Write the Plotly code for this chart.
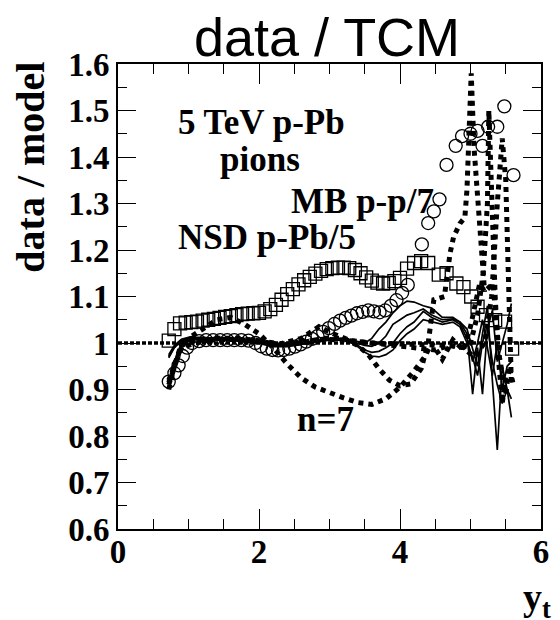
import plotly.graph_objects as go

# ---------------- data ----------------
sq_x = [0.72, 0.80, 0.88, 0.96, 1.04, 1.12, 1.20, 1.28, 1.36, 1.44, 1.52, 1.60, 1.68, 1.76,
        1.84, 1.92, 2.00, 2.08, 2.16, 2.24, 2.32, 2.40, 2.48, 2.56, 2.64, 2.72, 2.80, 2.88,
        2.96, 3.04, 3.12, 3.20, 3.28, 3.36, 3.44, 3.52, 3.60, 3.68, 3.76, 3.84, 3.92, 4.00,
        4.10, 4.20, 4.30, 4.40, 4.55, 4.66, 4.80, 4.90, 5.01, 5.10, 5.22, 5.35, 5.49, 5.59]
sq_y = [1.005, 1.030, 1.042, 1.044, 1.045, 1.046, 1.048, 1.050, 1.052, 1.054, 1.056, 1.058,
        1.060, 1.062, 1.063, 1.064, 1.065, 1.068, 1.073, 1.082, 1.093, 1.105, 1.116, 1.126,
        1.135, 1.142, 1.149, 1.155, 1.159, 1.161, 1.162, 1.162, 1.161, 1.157, 1.150, 1.141,
        1.134, 1.130, 1.128, 1.129, 1.133, 1.140, 1.160, 1.172, 1.176, 1.172, 1.147, 1.150,
        1.128, 1.120, 1.100, 1.078, 1.060, 1.049, 1.046, 0.988]

ci_x = [0.72, 0.80, 0.86, 0.92, 0.98, 1.05, 1.15, 1.25, 1.35, 1.45, 1.55, 1.65, 1.75, 1.85,
        1.95, 2.03, 2.11, 2.19, 2.27, 2.35, 2.43, 2.51, 2.59, 2.67, 2.75, 2.83, 2.91, 2.99,
        3.07, 3.15, 3.23, 3.31, 3.39, 3.47, 3.55, 3.63, 3.71, 3.79, 3.87, 3.95, 4.03, 4.11,
        4.31, 4.40, 4.48, 4.56, 4.66, 4.79, 4.88, 5.00, 5.10, 5.17, 5.25, 5.38, 5.48, 5.61]
ci_y = [0.917, 0.935, 0.952, 0.972, 0.990, 1.000, 1.004, 1.006, 1.006, 1.006, 1.006, 1.006,
        1.006, 1.005, 1.000, 0.993, 0.988, 0.985, 0.984, 0.985, 0.988, 0.992, 0.997, 1.003,
        1.009, 1.015, 1.024, 1.032, 1.041, 1.048, 1.054, 1.059, 1.064, 1.067, 1.070, 1.068,
        1.066, 1.070, 1.080, 1.092, 1.108, 1.125, 1.212, 1.258, 1.283, 1.309, 1.383, 1.424,
        1.445, 1.450, 1.456, 1.424, 1.465, 1.465, 1.509, 1.361]

# solid model-ratio curves
s_x = [0.72, 0.80, 0.90, 1.00, 1.20, 1.40, 1.60, 1.80, 2.00, 2.20, 2.40, 2.60, 2.80, 3.00,
       3.20, 3.35, 3.50, 3.60, 3.70, 3.80, 3.90, 4.00, 4.10, 4.20, 4.33, 4.45, 4.60, 4.75,
       4.85, 4.95, 5.03, 5.10, 5.17, 5.24, 5.31, 5.38, 5.45, 5.52, 5.58]
s1_y = [0.975, 0.995, 1.008, 1.012, 1.012, 1.010, 1.008, 1.006, 1.002, 0.995, 0.995, 1.000,
        1.005, 1.010, 1.010, 1.005, 1.000, 1.010, 1.030, 1.045, 1.065, 1.080, 1.090, 1.088,
        1.080, 1.075, 1.055, 1.055, 1.045, 1.020, 0.890, 0.990, 0.890, 1.030, 1.070, 0.960,
        1.000, 1.040, 1.085]
s2_y = [0.972, 0.993, 1.006, 1.010, 1.010, 1.009, 1.007, 1.005, 1.001, 0.994, 0.994, 0.999,
        1.004, 1.008, 1.008, 1.002, 0.995, 0.993, 1.000, 1.015, 1.040, 1.050, 1.060, 1.065,
        1.073, 1.060, 1.050, 1.052, 1.045, 1.030, 0.985, 0.950, 1.020, 1.080, 0.920, 0.770,
        0.950, 0.900, 0.840]
s3_y = [0.970, 0.992, 1.005, 1.009, 1.009, 1.008, 1.006, 1.004, 1.000, 0.993, 0.993, 0.998,
        1.003, 1.007, 1.007, 1.000, 0.985, 0.980, 0.982, 0.990, 1.000, 1.020, 1.035, 1.045,
        1.068, 1.055, 1.045, 1.050, 1.040, 1.010, 0.960, 1.000, 1.050, 0.990, 0.930, 1.000,
        0.900, 0.950, 0.960]
s4_y = [0.968, 0.990, 1.004, 1.008, 1.008, 1.007, 1.005, 1.003, 0.999, 0.992, 0.992, 0.997,
        1.002, 1.006, 1.006, 0.998, 0.980, 0.972, 0.970, 0.975, 0.985, 1.005, 1.020, 1.030,
        1.050, 1.045, 1.040, 1.045, 1.035, 1.000, 0.970, 0.930, 1.000, 1.040, 0.960, 0.910,
        0.870, 0.900, 0.880]

# thick dotted curves
d1_x = [0.72, 0.80, 0.90, 1.00, 1.20, 1.40, 1.60, 1.80, 2.00, 2.20, 2.40, 2.60, 2.80, 3.00,
        3.20, 3.40, 3.60, 3.80, 4.00, 4.20, 4.35, 4.45, 4.60, 4.75, 4.90, 5.00, 5.13, 5.20,
        5.32, 5.41, 5.45, 5.50, 5.55, 5.60]
d1_y = [0.900, 0.950, 0.990, 1.010, 1.030, 1.050, 1.055, 1.040, 1.020, 0.990, 0.955, 0.925,
        0.905, 0.893, 0.882, 0.872, 0.868, 0.880, 0.905, 0.940, 0.970, 1.000, 0.965, 1.007,
        0.985, 1.035, 1.128, 1.110, 1.128, 0.970, 0.935, 0.890, 0.950, 0.915]
d2_x = [0.72, 0.90, 1.10, 1.40, 1.70, 2.00, 2.30, 2.60, 2.90, 3.20, 3.40, 3.55, 3.70, 3.85,
        4.00, 4.15, 4.30, 4.40, 4.48, 4.63, 4.71, 4.76, 4.85, 4.92, 4.95, 4.98, 5.01, 5.05,
        5.08, 5.12, 5.17, 5.20]
d2_y = [0.920, 0.990, 1.000, 1.010, 1.010, 1.005, 0.995, 1.000, 1.010, 1.010, 0.995, 0.975,
        0.945, 0.920, 0.908, 0.912, 0.945, 1.000, 1.093, 1.100, 1.193, 1.228, 1.257, 1.270,
        1.330, 1.440, 1.580, 1.420, 1.360, 1.280, 1.200, 1.110]
d3_x = [0.72, 0.90, 1.10, 1.40, 1.70, 2.00, 2.30, 2.60, 2.85, 3.05, 3.30, 3.60, 3.90, 4.20,
        4.50, 4.70, 4.90, 5.00, 5.10, 5.18, 5.24, 5.26, 5.30, 5.35, 5.40, 5.45, 5.50]
d3_y = [0.910, 0.995, 1.005, 1.008, 1.008, 1.005, 0.998, 1.010, 1.035, 1.020, 1.005, 1.000,
        0.995, 0.990, 0.985, 0.995, 0.990, 1.000, 1.060, 1.150, 1.300, 1.500, 1.300, 1.100,
        0.960, 0.870, 0.930]
d4_x = [0.72, 0.90, 1.10, 1.40, 1.70, 2.00, 2.30, 2.60, 2.90, 3.20, 3.60, 4.00, 4.40, 4.70,
        4.90, 5.05, 5.20, 5.30, 5.38, 5.45, 5.50, 5.55, 5.58]
d4_y = [0.915, 0.998, 1.006, 1.008, 1.007, 1.004, 0.997, 1.002, 1.008, 1.006, 1.000, 0.998,
        0.996, 0.995, 0.990, 0.970, 1.000, 1.100, 1.300, 1.440, 1.350, 1.100, 0.910]

ref_x = [0, 6]
ref_y = [1, 1]

y_ticks = [0.6, 0.7, 0.8, 0.9, 1.0, 1.1, 1.2, 1.3, 1.4, 1.5, 1.6]
y_ticktext = ["0.6", "0.7", "0.8", "0.9", "1", "1.1", "1.2", "1.3", "1.4", "1.5", "1.6"]
x_ticks = [0, 2, 4, 6]
x_ticktext = ["0", "2", "4", "6"]

# ---------------- figure ----------------
SERIF = "Liberation Serif"
fig = go.Figure()

fig.add_trace(go.Scatter(x=ref_x, y=ref_y, mode="lines",
                         line=dict(color="black", width=3.5, dash="4px,2px")))

for dx, dy in [(d1_x, d1_y), (d2_x, d2_y), (d3_x, d3_y), (d4_x, d4_y)]:
    fig.add_trace(go.Scatter(x=dx, y=dy, mode="lines",
                             line=dict(color="black", width=5, dash="5px,5px")))

for sy in [s1_y, s2_y, s3_y, s4_y]:
    fig.add_trace(go.Scatter(x=s_x, y=sy, mode="lines",
                             line=dict(color="black", width=1.7)))

fig.add_trace(go.Scatter(x=sq_x, y=sq_y, mode="markers",
                         marker=dict(symbol="square-open", size=13, color="black",
                                     line=dict(width=1.3, color="black"))))
fig.add_trace(go.Scatter(x=ci_x, y=ci_y, mode="markers",
                         marker=dict(symbol="circle-open", size=13, color="black",
                                     line=dict(width=1.3, color="black"))))

L, R, T, B = 118, 11, 64, 91
W, H = 560, 620
pw, ph = W - L - R, H - T - B


def pxx(px):
    return (px - L) / pw


def pyy(py):
    return (H - B - py) / ph


tick_font = dict(family=SERIF, size=33, color="black", weight="bold")

fig.update_layout(
    width=W, height=H,
    margin=dict(l=L, r=R, t=T, b=B),
    paper_bgcolor="white", plot_bgcolor="white",
    showlegend=False,
    xaxis=dict(range=[0, 6], tickvals=x_ticks, ticktext=x_ticktext,
               ticks="inside", ticklen=20, tickwidth=1, tickcolor="black",
               minor=dict(dtick=0.5, ticks="inside", ticklen=10, tickwidth=1, tickcolor="black"),
               showline=True, linewidth=2, linecolor="black", mirror="allticks",
               showgrid=False, zeroline=False, tickfont=tick_font, ticklabelstandoff=-8),
    yaxis=dict(range=[0.6, 1.6], tickvals=y_ticks, ticktext=y_ticktext,
               ticks="inside", ticklen=18, tickwidth=1, tickcolor="black",
               minor=dict(dtick=0.05, ticks="inside", ticklen=9, tickwidth=1, tickcolor="black"),
               showline=True, linewidth=2, linecolor="black", mirror="allticks",
               showgrid=False, zeroline=False, tickfont=tick_font),
)

ann_font = dict(family=SERIF, size=35, color="black", weight="bold")
texts = [
    ("5 TeV p-Pb", 177, 122),
    ("pions", 220, 159),
    ("MB p-p/7", 292, 201),
    ("NSD p-Pb/5", 177, 238),
    ("n=7", 298, 419),
]
for t, x0, yc in texts:
    fig.add_annotation(text=t, x=pxx(x0), y=pyy(yc), xref="paper", yref="paper",
                       xanchor="left", yanchor="middle", showarrow=False, font=ann_font)

fig.add_annotation(text="data / TCM", x=pxx(331), y=pyy(37), xref="paper", yref="paper",
                   xanchor="center", yanchor="middle", showarrow=False,
                   font=dict(family="Liberation Sans", size=54, color="black"))
fig.add_annotation(text="data / model", x=pxx(28), y=pyy(167), xref="paper", yref="paper",
                   xanchor="center", yanchor="middle", showarrow=False, textangle=-90,
                   font=dict(family=SERIF, size=40, color="black", weight="bold"))
fig.add_annotation(text="y<sub>t</sub>", x=pxx(561), y=pyy(600), xref="paper", yref="paper",
                   xanchor="right", yanchor="middle", showarrow=False,
                   font=dict(family=SERIF, size=38, color="black", weight="bold"))

fig.write_html("out.html", config={"displayModeBar": False},
               post_script="document.body.style.margin='0';document.body.style.overflow='hidden';")
